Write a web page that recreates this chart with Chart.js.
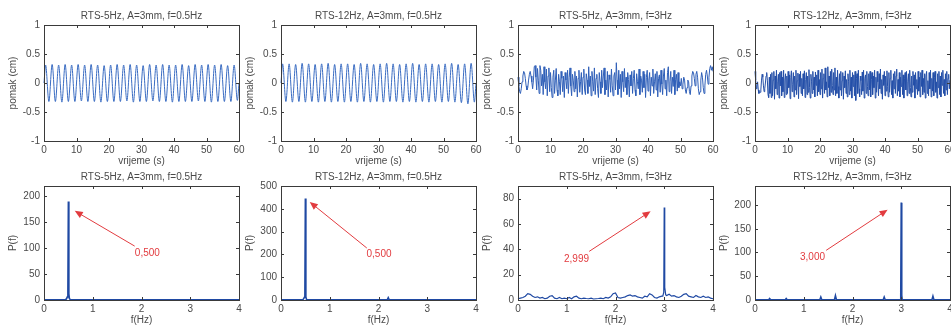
<!DOCTYPE html>
<html>
<head>
<meta charset="utf-8">
<script src="https://cdn.jsdelivr.net/npm/chart.js@4/dist/chart.umd.min.js"></script>
<style>
html, body { margin: 0; padding: 0; background: #fff; width: 951px; height: 326px; overflow: hidden; }
.cell { position: absolute; }
</style>
</head>
<body>
<script>
// ---- tick labels ----
const TIME_TICKS = [0, 10, 20, 30, 40, 50, 60];
const DISP_TICKS = [-1, -0.5, 0, 0.5, 1];
const FREQ_TICKS = [0, 1, 2, 3, 4];
const P5A_TICKS = [0, 50, 100, 150, 200];
const P12A_TICKS = [0, 100, 200, 300, 400, 500];
const P5B_TICKS = [0, 20, 40, 60, 80];
const P12B_TICKS = [0, 50, 100, 150, 200];

// ---- top row: displacement (cm) ----
// f = 0.5 Hz: peaks / troughs, one every second starting at t = 0.5 s
const SIN5_EXT = [0.31,-0.32,0.32,-0.32,0.31,-0.33,0.32,-0.32,0.31,-0.32,
  0.32,-0.31,0.31,-0.32,0.32,-0.32,0.31,-0.33,0.30,-0.32,
  0.31,-0.32,0.32,-0.32,0.31,-0.31,0.32,-0.33,0.31,-0.32,
  0.30,-0.32,0.32,-0.31,0.31,-0.32,0.32,-0.32,0.31,-0.33,
  0.31,-0.32,0.32,-0.32,0.30,-0.32,0.32,-0.31,0.31,-0.32,
  0.32,-0.33,0.31,-0.32,0.32,-0.32,0.30,-0.32,0.31,-0.30];
const SIN12_EXT = [0.33,-0.32,0.33,-0.33,0.32,-0.32,0.34,-0.33,0.33,-0.32,
  0.32,-0.33,0.33,-0.32,0.34,-0.33,0.32,-0.32,0.33,-0.33,
  0.33,-0.32,0.32,-0.33,0.34,-0.32,0.33,-0.33,0.32,-0.32,
  0.33,-0.33,0.34,-0.32,0.33,-0.32,0.32,-0.33,0.33,-0.32,
  0.34,-0.33,0.32,-0.32,0.33,-0.33,0.33,-0.32,0.32,-0.33,
  0.33,-0.32,0.34,-0.33,0.32,-0.34,0.33,-0.36,0.34,-0.33];

// f = 3 Hz, RTS 5 Hz: one sample every 0.25 s
const NOISE5_DT = 0.25;
const NOISE5 = [
  0.10,-0.05,-0.15,-0.18,-0.10,0.02,0.12,0.20,0.18,0.08,-0.05,-0.12,-0.08,0.05,0.15,0.20,0.12,0.02,-0.10,0.05,
  0.28,0.30,0.10,-0.12,0.25,0.05,-0.18,0.30,0.22,-0.05,0.15,-0.20,0.28,0.02,-0.10,0.24,-0.22,0.12,0.26,-0.15,
  0.18,-0.08,-0.25,0.10,0.22,-0.18,0.05,0.25,-0.12,-0.22,0.15,0.02,-0.20,0.20,0.08,-0.15,0.12,-0.25,0.18,0.05,
  -0.10,0.22,-0.18,0.10,0.26,-0.05,-0.22,0.15,0.05,-0.15,0.20,-0.10,0.12,-0.24,0.08,0.22,-0.16,0.02,0.18,-0.20,
  0.10,0.24,-0.12,-0.20,0.16,0.05,-0.18,0.28,-0.06,0.12,-0.22,0.20,0.02,-0.14,0.26,-0.20,0.08,0.15,-0.10,-0.25,
  0.18,0.02,-0.18,0.22,-0.08,0.12,0.26,-0.20,0.05,-0.12,0.20,-0.24,0.14,0.06,-0.16,0.24,-0.05,-0.22,0.12,0.18,
  -0.12,0.35,0.05,-0.20,0.22,-0.10,0.15,-0.25,0.20,0.02,-0.15,0.25,-0.08,0.10,-0.20,0.18,0.06,-0.24,0.14,-0.05,
  0.20,-0.18,0.08,0.22,-0.12,-0.22,0.16,0.02,-0.10,0.24,-0.20,0.12,0.05,-0.16,0.20,-0.08,0.15,-0.25,0.10,0.22,
  -0.14,0.05,0.18,-0.22,0.10,-0.05,0.24,-0.18,0.02,0.16,-0.12,0.20,-0.24,0.08,0.14,-0.16,0.22,-0.02,-0.20,0.12,
  0.25,-0.10,0.05,-0.22,0.18,0.28,-0.15,0.02,0.20,-0.18,0.10,-0.06,0.22,-0.20,0.06,0.15,-0.14,0.18,-0.08,0.02,
  -0.05,0.08,-0.10,-0.02,0.10,0.05,-0.12,-0.18,-0.08,0.05,0.02,-0.15,-0.20,-0.05,0.12,0.20,0.18,0.08,-0.05,0.15,
  0.20,0.10,-0.10,-0.20,-0.15,0.05,0.18,0.10,-0.08,-0.18,-0.05,0.15,0.22,0.12,-0.02,0.10,0.25,0.30,0.22,0.28,
  0.20];

// f = 3 Hz, RTS 12 Hz: one sample every 0.2 s
const NOISE12_DT = 0.2;
const NOISE12 = [
  0.20,0.05,-0.10,-0.05,0.02,-0.12,-0.18,-0.15,-0.16,-0.12,0.05,0.15,0.10,-0.05,-0.15,-0.10,0.00,0.12,0.18,0.05,-0.20,-0.25,0.10,-0.18,0.15,
  -0.25,0.18,-0.22,0.05,0.20,-0.28,0.12,-0.10,0.22,-0.20,0.02,0.15,-0.26,0.18,-0.05,0.20,-0.22,0.10,-0.15,0.22,-0.25,0.05,0.16,-0.20,0.12,
  -0.18,0.20,-0.08,0.14,-0.27,0.10,0.21,-0.15,-0.02,0.18,-0.24,0.12,-0.12,0.22,-0.20,0.04,0.17,-0.27,0.15,-0.06,0.20,-0.18,0.08,-0.22,0.16,
  -0.10,0.21,-0.25,0.06,0.18,-0.20,0.12,-0.16,0.23,-0.08,-0.26,0.15,0.02,-0.18,0.20,-0.12,0.10,-0.24,0.19,-0.04,0.14,-0.22,0.22,-0.15,0.06,
  -0.20,0.18,-0.10,0.24,-0.26,0.08,0.16,-0.18,0.26,-0.12,0.02,-0.24,0.28,-0.08,0.12,-0.22,0.20,-0.16,0.24,-0.04,-0.20,0.18,-0.12,0.26,-0.22,
  0.10,-0.18,0.22,-0.06,-0.26,0.16,-0.12,0.20,-0.22,0.04,0.18,-0.28,0.12,-0.08,0.21,-0.18,0.06,-0.24,0.16,0.02,-0.20,0.22,-0.14,0.10,-0.26,
  0.18,-0.06,0.14,-0.22,0.20,-0.30,0.08,0.16,-0.18,0.22,-0.10,-0.24,0.12,0.04,-0.20,0.19,-0.14,0.22,-0.26,0.08,0.14,-0.18,0.20,-0.06,-0.22,
  0.16,-0.12,0.20,-0.24,0.06,0.18,-0.20,0.12,-0.08,0.22,-0.26,0.10,-0.16,0.20,0.02,-0.22,0.16,-0.10,0.24,-0.18,0.06,-0.28,0.14,-0.04,0.20,
  -0.22,0.12,-0.14,0.21,-0.06,-0.24,0.18,-0.16,0.08,0.22,-0.20,0.04,-0.26,0.16,-0.10,0.20,-0.18,0.12,0.24,-0.22,0.06,-0.14,0.18,-0.24,0.10,
  -0.06,0.22,-0.20,0.14,-0.26,0.08,0.18,-0.12,0.20,-0.22,0.02,0.16,-0.18,0.22,-0.08,-0.24,0.12,-0.16,0.20,-0.04,0.14,-0.26,0.18,-0.10,0.06,
  -0.20,0.20,-0.14,0.10,-0.24,0.18,-0.06,0.22,-0.20,0.08,-0.16,0.16,-0.26,0.12,0.20,-0.18,0.04,-0.22,0.18,-0.10,0.22,-0.24,0.08,-0.14,0.18,
  -0.22,0.10,0.20,-0.16,0.02,-0.26,0.16,-0.08,0.20,-0.20,0.12,-0.24,0.18,-0.04,0.22,-0.18,0.06,-0.22,0.16,-0.12,0.20,-0.20,0.08,0.15,-0.10,
  0.05];

// ---- bottom row: spectra P(f) ----
const SPEC5A_F = [0, 0.44, 0.46, 0.48, 0.49, 0.50, 0.51, 0.52, 0.54, 4];
const SPEC5A_P = [0.5, 0.5, 2, 6, 14, 190, 12, 3, 0.5, 0.5];
const SPEC12A_F = [0, 0.44, 0.46, 0.48, 0.49, 0.50, 0.51, 0.52, 0.54, 2.18, 2.2, 2.22, 4];
const SPEC12A_P = [0.5, 0.5, 4, 12, 20, 445, 15, 4, 0.5, 0.5, 10, 0.5, 0.5];
// noise floor every 0.05 Hz, the 3 Hz line given apart
const SPEC5B_DF = 0.05;
const SPEC5B_NOISE = [1,1.5,2,3,5,4.5,3,2,2.5,1.5, 2,1,1.5,3,3.5,1.5,1,2,1,1.5,
  1,2,1,2.5,3,1.5,1,1.5,1.2,1, 1.5,0.8,1,1.2,1.5,1,2,1.5,2.5,5,
  5.5,2,1.5,2,2.5,3.5,4,3,3.5,2.5, 2,1.5,3,2.5,5,4,2,1.5,2.5,3,
  4,3.5,4.5,3,3.5,2.5,2,3,4.5,5, 3,2.5,2,3.5,2.5,2,3,2,2.5,1.5, 1];
const SPEC5B_PEAK_F = [2.97, 2.99, 2.999, 3.01, 3.03];
const SPEC5B_PEAK_P = [3, 6, 73, 10, 4];
const SPEC12B_F = [0, 0.28, 0.3, 0.32, 0.62, 0.64, 0.66, 1.33, 1.35, 1.37, 1.63, 1.65, 1.67,
  2.63, 2.65, 2.67, 2.98, 2.99, 3.0, 3.01, 3.02, 3.63, 3.65, 3.67, 4];
const SPEC12B_P = [0.5, 0.5, 3, 0.5, 0.5, 3, 0.5, 0.5, 6, 0.5, 0.5, 9, 0.5,
  0.5, 6, 0.5, 0.5, 8, 205, 10, 0.5, 0.5, 8, 0.5, 0.5];

// ---- point builders ----
function extremaPoints(ext) {
  const pts = [{ x: 0, y: 0 }];
  ext.forEach((v, i) => pts.push({ x: i + 0.5, y: v }));
  pts.push({ x: 60, y: 0 });
  return pts;
}
function sampledPoints(vals, dt) {
  return vals.map((v, i) => ({ x: i * dt, y: v }));
}
function pairPoints(f, p) {
  return f.map((x, i) => ({ x: x, y: p[i] }));
}
const spec5bPoints = sampledPoints(SPEC5B_NOISE, SPEC5B_DF)
  .filter(pt => Math.abs(pt.x - 3) > 0.04)
  .concat(pairPoints(SPEC5B_PEAK_F, SPEC5B_PEAK_P))
  .sort((a, b) => a.x - b.x);

const FONT = "'Liberation Sans', Arial, sans-serif";
const TEXT = "#4a4a4a";
const RED = "#e23b3f";

// box, inside ticks, titles and arrow notes in MATLAB fashion
const matlabPlugin = {
  id: "matlab",
  afterDraw(chart, args, o) {
    const ctx = chart.ctx;
    const a = chart.chartArea;
    const xs = chart.scales.x, ys = chart.scales.y;
    ctx.save();
    ctx.strokeStyle = "#3a3a3a";
    ctx.lineWidth = 1;
    ctx.strokeRect(Math.round(a.left) + 0.5, Math.round(a.top) + 0.5,
      Math.round(a.right - a.left), Math.round(a.bottom - a.top));
    ctx.beginPath();
    xs.ticks.forEach(t => {
      const px = Math.round(xs.getPixelForValue(t.value)) + 0.5;
      ctx.moveTo(px, a.bottom); ctx.lineTo(px, a.bottom - 3);
      ctx.moveTo(px, a.top); ctx.lineTo(px, a.top + 3);
    });
    ys.ticks.forEach(t => {
      const py = Math.round(ys.getPixelForValue(t.value)) + 0.5;
      ctx.moveTo(a.left, py); ctx.lineTo(a.left + 3, py);
      ctx.moveTo(a.right, py); ctx.lineTo(a.right - 3, py);
    });
    ctx.stroke();

    ctx.fillStyle = TEXT;
    ctx.font = "10px " + FONT;
    ctx.textAlign = "center";
    ctx.textBaseline = "middle";
    const cx = (a.left + a.right) / 2;
    ctx.fillText(o.title, cx, a.top - 9);
    ctx.fillText(o.xlabel, cx, a.bottom + 20);
    ctx.save();
    ctx.translate(13, (a.top + a.bottom) / 2);
    ctx.rotate(-Math.PI / 2);
    ctx.fillText(o.ylabel, 0, 0);
    ctx.restore();

    if (o.note) {
      const n = o.note;
      const tx = xs.getPixelForValue(n.tail[0]), ty = ys.getPixelForValue(n.tail[1]);
      const hx = xs.getPixelForValue(n.head[0]), hy = ys.getPixelForValue(n.head[1]);
      const ang = Math.atan2(hy - ty, hx - tx);
      ctx.strokeStyle = RED;
      ctx.fillStyle = RED;
      ctx.lineWidth = 1;
      ctx.beginPath();
      ctx.moveTo(tx, ty);
      ctx.lineTo(hx - 6 * Math.cos(ang), hy - 6 * Math.sin(ang));
      ctx.stroke();
      ctx.beginPath();
      ctx.moveTo(hx, hy);
      ctx.lineTo(hx - 8 * Math.cos(ang) + 3.5 * Math.sin(ang), hy - 8 * Math.sin(ang) - 3.5 * Math.cos(ang));
      ctx.lineTo(hx - 8 * Math.cos(ang) - 3.5 * Math.sin(ang), hy - 8 * Math.sin(ang) + 3.5 * Math.cos(ang));
      ctx.closePath();
      ctx.fill();
      ctx.font = "10px " + FONT;
      ctx.fillText(n.text, xs.getPixelForValue(n.at[0]), ys.getPixelForValue(n.at[1]));
    }
    ctx.restore();
  }
};
Chart.register(matlabPlugin);

function makePanel(p) {
  const top = p.row === 0;
  const div = document.createElement("div");
  div.className = "cell";
  const w = 44 + 195 + 10;
  const h = top ? 168 : 163;
  div.style.left = (237 * p.col) + "px";
  div.style.top = (top ? 0 : 163) + "px";
  div.style.width = w + "px";
  div.style.height = h + "px";
  const cv = document.createElement("canvas");
  cv.width = w;
  cv.height = h;
  cv.style.width = w + "px";
  cv.style.height = h + "px";
  div.appendChild(cv);
  document.body.appendChild(div);

  const xHeight = top ? 27 : 26;
  new Chart(cv, {
    type: "line",
    data: {
      datasets: [{
        data: p.points,
        borderColor: p.color,
        borderWidth: p.lineWidth || 1,
        pointRadius: 0,
        fill: false,
        cubicInterpolationMode: p.smooth ? "monotone" : "default",
        tension: 0,
        clip: 3
      }]
    },
    options: {
      responsive: false,
      maintainAspectRatio: false,
      animation: false,
      events: [],
      layout: { padding: { left: 0, right: 10, top: top ? 25 : 23, bottom: 0 } },
      plugins: {
        legend: { display: false },
        tooltip: { enabled: false },
        matlab: { title: p.title, xlabel: p.xlabel, ylabel: p.ylabel, note: p.note }
      },
      scales: {
        x: {
          type: "linear",
          min: p.xTicks[0],
          max: p.xTicks[p.xTicks.length - 1],
          grid: { display: false, drawTicks: false },
          border: { display: false },
          ticks: { color: TEXT, font: { family: FONT, size: 10 }, padding: 3, maxRotation: 0, autoSkip: false,
            callback: v => String(v) },
          afterBuildTicks: s => { s.ticks = p.xTicks.map(v => ({ value: v })); },
          afterFit: s => { s.height = xHeight; s.paddingLeft = 0; s.paddingRight = 0; }
        },
        y: {
          type: "linear",
          min: p.yMin,
          max: p.yMax,
          grid: { display: false, drawTicks: false },
          border: { display: false },
          ticks: { color: TEXT, font: { family: FONT, size: 10 }, padding: 4, autoSkip: false,
            callback: v => String(v) },
          afterBuildTicks: s => { s.ticks = p.yTicks.map(v => ({ value: v })); },
          afterFit: s => { s.width = 44; s.paddingTop = 0; s.paddingBottom = 0; }
        }
      }
    }
  });
}

const topCommon = { row: 0, xTicks: TIME_TICKS, yTicks: DISP_TICKS, yMin: -1, yMax: 1,
  xlabel: "vrijeme (s)", ylabel: "pomak (cm)" };
const botCommon = { row: 1, xTicks: FREQ_TICKS, yMin: 0, xlabel: "f(Hz)", ylabel: "P(f)",
  color: "#1f49a3", lineWidth: 1.6 };

makePanel(Object.assign({}, topCommon, { col: 0, title: "RTS-5Hz, A=3mm, f=0.5Hz",
  points: extremaPoints(SIN5_EXT), smooth: true, color: "#3a6cc2" }));
makePanel(Object.assign({}, topCommon, { col: 1, title: "RTS-12Hz, A=3mm, f=0.5Hz",
  points: extremaPoints(SIN12_EXT), smooth: true, color: "#3a6cc2" }));
makePanel(Object.assign({}, topCommon, { col: 2, title: "RTS-5Hz, A=3mm, f=3Hz",
  points: sampledPoints(NOISE5, NOISE5_DT), color: "#2f5fb8" }));
makePanel(Object.assign({}, topCommon, { col: 3, title: "RTS-12Hz, A=3mm, f=3Hz",
  points: sampledPoints(NOISE12, NOISE12_DT), color: "#244fa8" }));

makePanel(Object.assign({}, botCommon, { col: 0, title: "RTS-5Hz, A=3mm, f=0.5Hz",
  points: pairPoints(SPEC5A_F, SPEC5A_P), yTicks: P5A_TICKS, yMax: 220,
  note: { text: "0,500", head: [0.63, 172], tail: [1.86, 104], at: [2.12, 91] } }));
makePanel(Object.assign({}, botCommon, { col: 1, title: "RTS-12Hz, A=3mm, f=0.5Hz",
  points: pairPoints(SPEC12A_F, SPEC12A_P), yTicks: P12A_TICKS, yMax: 500,
  note: { text: "0,500", head: [0.59, 430], tail: [1.76, 228], at: [2.01, 199] } }));
makePanel(Object.assign({}, botCommon, { col: 2, title: "RTS-5Hz, A=3mm, f=3Hz",
  points: spec5bPoints, yTicks: P5B_TICKS, yMax: 90, lineWidth: 1.2,
  note: { text: "2,999", head: [2.72, 70], tail: [1.46, 38.4], at: [1.2, 32.4] } }));
makePanel(Object.assign({}, botCommon, { col: 3, title: "RTS-12Hz, A=3mm, f=3Hz",
  points: pairPoints(SPEC12B_F, SPEC12B_P), yTicks: P12B_TICKS, yMax: 240,
  note: { text: "3,000", head: [2.72, 190], tail: [1.46, 104.6], at: [1.18, 90] } }));
</script>
</body>
</html>
